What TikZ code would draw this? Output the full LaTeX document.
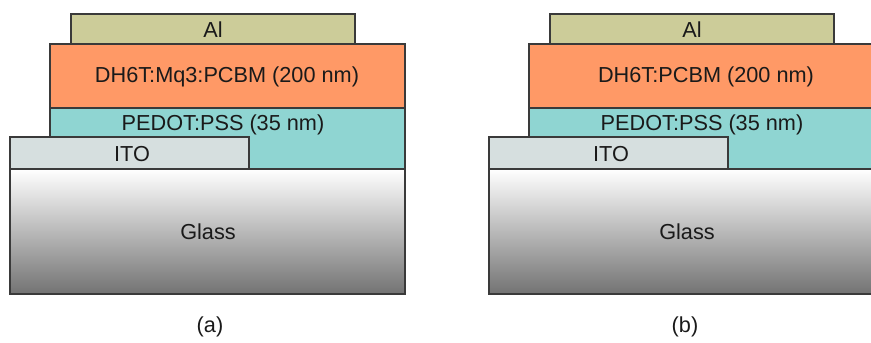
\documentclass[tikz,border=0pt]{standalone}
\usepackage{fontspec}
\setmainfont{Liberation Sans}
\definecolor{alcol}{HTML}{CCCC99}
\definecolor{activecol}{HTML}{FF9966}
\definecolor{pedotcol}{HTML}{8FD5D2}
\definecolor{itocol}{HTML}{D6DFDF}
\definecolor{edgecol}{HTML}{3A3A3A}
\definecolor{txtcol}{HTML}{1A1A1A}
\tikzset{
  layer/.style={draw=edgecol, line width=1.1pt},
  glasslayer/.style={layer, top color=white, bottom color=black!55},
  lbl/.style={font=\fontsize{21.7}{24}\selectfont, text=txtcol, inner sep=0pt},
}
% one device stack; #1 = horizontal offset, #2 = active layer text
\newcommand{\devstack}[2]{%
  \begin{scope}[xshift=#1]
    \fill[pedotcol] (50,108) rectangle (405,169);
    \draw[layer] (50,137) -- (50,108) -- (405,108) -- (405,169);
    \path[layer, fill=itocol] (10,137) rectangle (249,169);
    \path[glasslayer] (10,169) rectangle (405,294);
    \path[layer, fill=activecol] (50,44) rectangle (405,108);
    \path[layer, fill=alcol] (71,14) rectangle (355,44);
    \node[lbl] at (213,30) {Al};
    \node[lbl] at (227,77) {#2};
    \node[lbl] at (223,125) {PEDOT:PSS (35 nm)};
    \node[lbl] at (132,154) {ITO};
    \node[lbl] at (208,232) {Glass};
  \end{scope}}
\begin{document}
\begin{tikzpicture}[x=1pt, y=-1pt]
  \useasboundingbox (0,0) rectangle (871,343);
  \clip (0,0) rectangle (871,343);
  \devstack{0pt}{DH6T:Mq3:PCBM (200 nm)}
  \devstack{479pt}{DH6T:PCBM (200 nm)}
  \node[lbl] (capa) at (210,327) {(a)};
  \node[lbl] (capb) at (685,327) {(b)};
\end{tikzpicture}
\end{document}
